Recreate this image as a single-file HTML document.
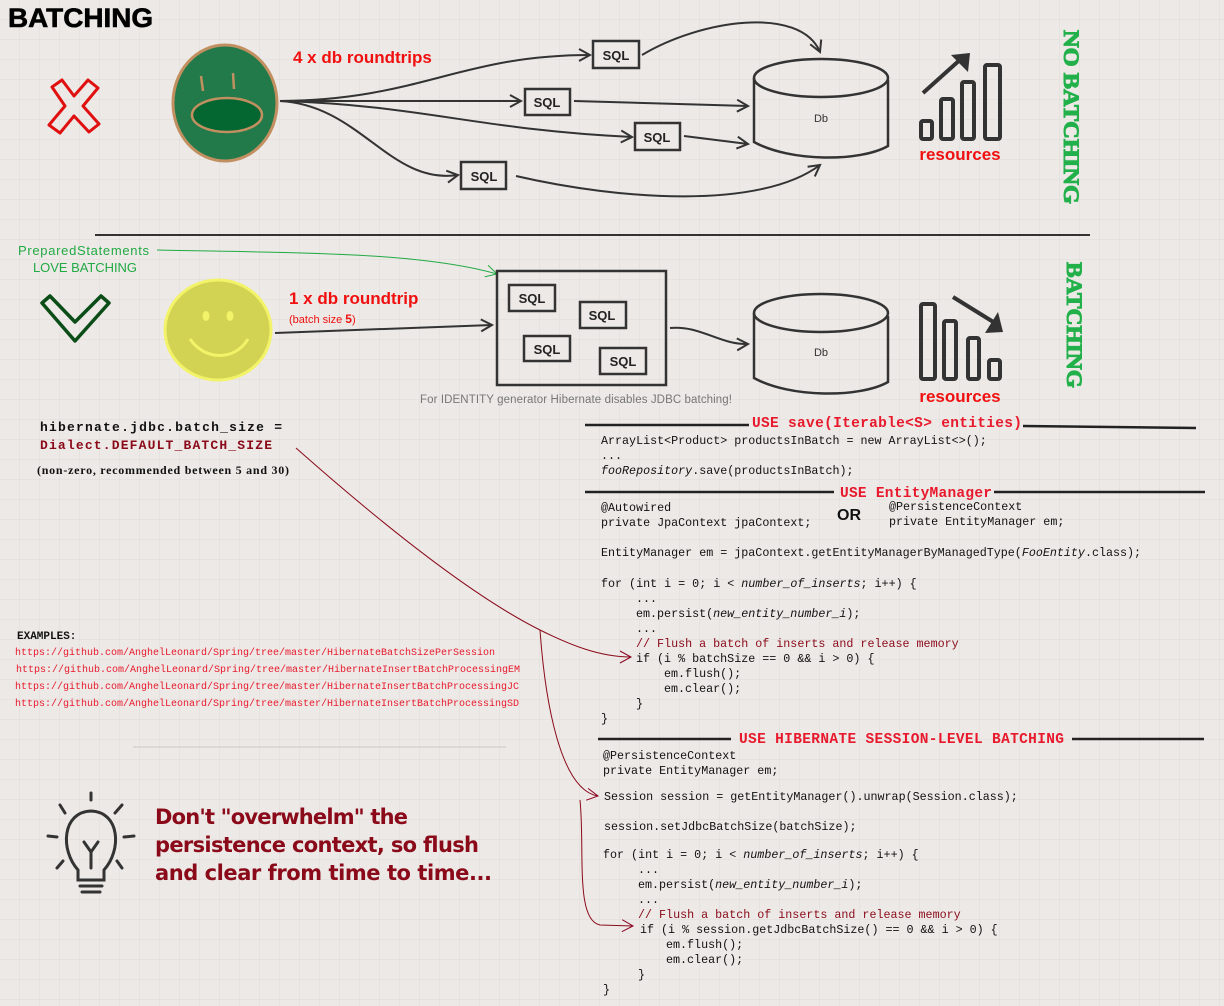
<!DOCTYPE html>
<html><head><meta charset="utf-8"><style>
html,body{margin:0;padding:0;background:#ece9e6;}
svg{display:block}
.m{font-family:"Liberation Mono",monospace;font-size:11.7px;fill:#111;}
.h{font-family:"Liberation Mono",monospace;font-size:14.5px;font-weight:bold;fill:#e8192c;}
.s{font-family:"Liberation Sans",sans-serif;}
</style></head><body>
<svg width="1224" height="1006" viewBox="0 0 1224 1006" xmlns="http://www.w3.org/2000/svg">
<defs>
<pattern id="g" width="20" height="20" patternUnits="userSpaceOnUse"><path d="M20 0V20H0" fill="none" stroke="#e0dcd8" stroke-width="1"/></pattern>
<marker id="a" markerWidth="14" markerHeight="14" refX="12" refY="7" orient="auto" markerUnits="userSpaceOnUse"><path d="M1 1L12 7L1 13" fill="none" stroke="#333" stroke-width="2"/></marker>
<marker id="r" markerWidth="14" markerHeight="14" refX="12" refY="7" orient="auto" markerUnits="userSpaceOnUse"><path d="M1 1L12 7L1 13" fill="none" stroke="#8b0020" stroke-width="1"/></marker>
<marker id="gr" markerWidth="14" markerHeight="14" refX="12" refY="7" orient="auto" markerUnits="userSpaceOnUse"><path d="M1 1L12 7L1 13" fill="none" stroke="#22aa44" stroke-width="1"/></marker>
</defs>
<rect width="1224" height="1006" fill="url(#g)"/>

<text x="8" y="27" class="s" font-size="27" font-weight="bold" fill="#000" stroke="#000" stroke-width="0.6" textLength="145" lengthAdjust="spacingAndGlyphs">BATCHING</text>

<path d="M52 87L62 80L74 96L88 80L98 88L83 106L99 124L89 132L74 116L60 133L49 125L65 106Z" fill="none" stroke="#e01010" stroke-width="3" stroke-linejoin="round"/>
<ellipse cx="225" cy="103" rx="52" ry="58" fill="#227a4a" stroke="#c29060" stroke-width="3"/>
<line x1="201" y1="76" x2="203" y2="91" stroke="#c29060" stroke-width="2.5"/>
<line x1="233" y1="73" x2="234" y2="89" stroke="#c29060" stroke-width="2.5"/>
<ellipse cx="227" cy="115" rx="35" ry="17" fill="#046630" stroke="#c29060" stroke-width="2.5"/>
<text x="293" y="63" class="s" font-size="17" font-weight="bold" fill="#f01010">4 x db roundtrips</text>

<g fill="none" stroke="#333" stroke-width="2">
<path d="M280 101C420 100 460 55 590 55" marker-end="url(#a)"/>
<path d="M280 101L521 101" marker-end="url(#a)"/>
<path d="M280 101C420 105 480 130 632 137" marker-end="url(#a)"/>
<path d="M280 101C360 105 390 185 458 175" marker-end="url(#a)"/>
<path d="M642 55C700 20 800 5 820 52" marker-end="url(#a)"/>
<path d="M574 101L748 106" marker-end="url(#a)"/>
<path d="M684 136L748 144" marker-end="url(#a)"/>
<path d="M516 176C620 200 760 210 820 165" marker-end="url(#a)"/>
</g>
<g stroke="#333" stroke-width="2.5" fill="#ece9e6">
<rect x="593" y="41" width="46" height="27"/>
<rect x="525" y="89" width="45" height="26"/>
<rect x="635" y="123" width="45" height="27"/>
<rect x="461" y="162" width="45" height="27"/>
</g>
<g class="s" font-size="13" font-weight="bold" fill="#222" text-anchor="middle">
<text x="616" y="60">SQL</text><text x="547" y="107">SQL</text><text x="657" y="142">SQL</text><text x="484" y="181">SQL</text>
</g>

<g fill="none" stroke="#333" stroke-width="2.5">
<path d="M754 78V142C790 162 860 162 888 146V80"/>
<ellipse cx="821" cy="78" rx="67" ry="19"/>
</g>
<text x="821" y="122" class="s" font-size="11" fill="#333" text-anchor="middle">Db</text>

<g fill="none" stroke="#333" stroke-width="4" stroke-linejoin="round">
<rect x="921" y="121" width="11" height="18" rx="2"/>
<rect x="941" y="99" width="12" height="40" rx="2"/>
<rect x="962" y="82" width="12" height="57" rx="2"/>
<rect x="985" y="65" width="15" height="74" rx="2"/>
<path d="M923 93L962 58"/>
</g>
<path d="M951 55L970 53L968 72Z" fill="#333"/>
<text x="960" y="160" class="s" font-size="17" font-weight="bold" fill="#f01010" text-anchor="middle">resources</text>

<text transform="translate(1064,30) rotate(90)" font-family="Liberation Serif,serif" font-size="22" font-weight="bold" fill="#22b04a" stroke="#22b04a" stroke-width="1" textLength="174" lengthAdjust="spacingAndGlyphs">NO BATCHING</text>

<line x1="95" y1="235" x2="1090" y2="235" stroke="#333" stroke-width="2"/>

<text x="18" y="255" class="s" font-size="13" fill="#22aa44" textLength="131">PreparedStatements</text>
<text x="33" y="272" class="s" font-size="13" fill="#22aa44" textLength="104">LOVE BATCHING</text>
<path d="M157 250C300 253 420 252 497 274" fill="none" stroke="#22aa44" stroke-width="1" marker-end="url(#gr)"/>
<path d="M42 303L50 296L75 322L101 296L109 303L75 341Z" fill="none" stroke="#0b4d16" stroke-width="3.5" stroke-linejoin="round"/>
<ellipse cx="218" cy="330" rx="53" ry="50" fill="#d3d353" stroke="#f3f36a" stroke-width="3"/>
<ellipse cx="206" cy="316" rx="3.5" ry="5" fill="#f3f36a"/>
<ellipse cx="230" cy="316" rx="3.5" ry="5" fill="#f3f36a"/>
<path d="M190 339C205 361 235 361 248 339" fill="none" stroke="#f3f36a" stroke-width="3"/>
<text x="289" y="304" class="s" font-size="17" font-weight="bold" fill="#f01010">1 x db roundtrip</text>
<text x="289" y="323" class="s" font-size="11" fill="#f01010">(batch size <tspan font-weight="bold" font-size="12">5</tspan>)</text>
<g fill="none" stroke="#333" stroke-width="2">
<path d="M275 333L492 325" marker-end="url(#a)"/>
<path d="M670 328C700 325 720 345 748 344" marker-end="url(#a)"/>
</g>
<rect x="497" y="271" width="169" height="114" fill="none" stroke="#333" stroke-width="2.5"/>
<g stroke="#333" stroke-width="2.5" fill="#ece9e6">
<rect x="509" y="285" width="46" height="26"/>
<rect x="580" y="302" width="46" height="26"/>
<rect x="524" y="336" width="46" height="25"/>
<rect x="600" y="348" width="46" height="26"/>
</g>
<g class="s" font-size="13" font-weight="bold" fill="#222" text-anchor="middle">
<text x="532" y="303">SQL</text><text x="602" y="320">SQL</text><text x="547" y="354">SQL</text><text x="623" y="366">SQL</text>
</g>
<text x="420" y="403" class="s" font-size="11.5" fill="#777" textLength="312">For IDENTITY generator Hibernate disables JDBC batching!</text>

<g fill="none" stroke="#333" stroke-width="2.5">
<path d="M754 313V378C790 398 860 398 888 382V316"/>
<ellipse cx="821" cy="313" rx="67" ry="19"/>
</g>
<text x="821" y="356" class="s" font-size="11" fill="#333" text-anchor="middle">Db</text>
<g fill="none" stroke="#333" stroke-width="4" stroke-linejoin="round">
<rect x="921" y="304" width="14" height="75" rx="2"/>
<rect x="944" y="321" width="12" height="58" rx="2"/>
<rect x="968" y="338" width="11" height="41" rx="2"/>
<rect x="989" y="360" width="11" height="19" rx="2"/>
<path d="M953 297L995 323"/>
</g>
<path d="M985 333L1003 332L998 312Z" fill="#333"/>
<text x="960" y="402" class="s" font-size="17" font-weight="bold" fill="#f01010" text-anchor="middle">resources</text>
<text transform="translate(1067,262) rotate(90)" font-family="Liberation Serif,serif" font-size="22" font-weight="bold" fill="#22b04a" stroke="#22b04a" stroke-width="1" textLength="126" lengthAdjust="spacingAndGlyphs">BATCHING</text>

<text x="40" y="431" font-family="Liberation Mono,monospace" font-size="13" font-weight="bold" fill="#111" textLength="242">hibernate.jdbc.batch_size =</text>
<text x="40" y="449" font-family="Liberation Mono,monospace" font-size="13" font-weight="bold" fill="#8b0a1a" textLength="232">Dialect.DEFAULT_BATCH_SIZE</text>
<text x="37" y="474" font-family="Liberation Serif,serif" font-size="12" font-weight="bold" fill="#111" textLength="252">(non-zero, recommended between 5 and 30)</text>

<g fill="none" stroke="#8b0a1a" stroke-width="1">
<path d="M296 448C400 540 480 600 540 630C570 645 600 657 631 657" marker-end="url(#r)"/>
<path d="M540 630C545 700 560 790 598 796" marker-end="url(#r)"/>
<path d="M580 800C585 850 575 920 600 925L633 926" marker-end="url(#r)"/>
</g>

<text x="17" y="639" font-family="Liberation Mono,monospace" font-size="11" font-weight="bold" fill="#111">EXAMPLES:</text>
<g font-family="Liberation Mono,monospace" font-size="10" fill="#e8192c">
<text x="15" y="655" textLength="480">https://github.com/AnghelLeonard/Spring/tree/master/HibernateBatchSizePerSession</text>
<text x="16" y="672" textLength="504">https://github.com/AnghelLeonard/Spring/tree/master/HibernateInsertBatchProcessingEM</text>
<text x="15" y="689" textLength="504">https://github.com/AnghelLeonard/Spring/tree/master/HibernateInsertBatchProcessingJC</text>
<text x="15" y="706" textLength="504">https://github.com/AnghelLeonard/Spring/tree/master/HibernateInsertBatchProcessingSD</text>
</g>
<line x1="133" y1="747" x2="506" y2="747" stroke="#dcd8d4" stroke-width="2"/>

<g fill="none" stroke="#333" stroke-width="3" stroke-linecap="round">
<path d="M78 870C60 850 62 812 91 811C120 812 122 850 104 870L104 880H78Z"/>
<path d="M84 842L91 852L98 842M91 852V868"/>
<path d="M80 880H102M80 886H102M82 892H100"/>
<line x1="91" y1="793" x2="91" y2="800"/>
<line x1="60" y1="805" x2="65" y2="813"/>
<line x1="122" y1="805" x2="115" y2="813"/>
<line x1="48" y1="836" x2="57" y2="837"/>
<line x1="124" y1="837" x2="134" y2="836"/>
<line x1="57" y1="868" x2="63" y2="861"/>
<line x1="122" y1="868" x2="117" y2="861"/>
</g>
<g font-family="DejaVu Sans,sans-serif" font-size="21" font-weight="bold" fill="#8b0a1a">
<text x="155" y="824" textLength="253">Don't "overwhelm" the</text>
<text x="155" y="852" textLength="324">persistence context, so flush</text>
<text x="155" y="880" textLength="337">and clear from time to time...</text>
</g>

<g stroke="#222" stroke-width="2.5">
<line x1="585" y1="425" x2="749" y2="425"/><line x1="1023" y1="426" x2="1196" y2="428"/>
<line x1="585" y1="492" x2="834" y2="492"/><line x1="994" y1="492" x2="1205" y2="492"/>
<line x1="598" y1="739" x2="731" y2="739"/><line x1="1072" y1="739" x2="1204" y2="739"/>
</g>
<text x="752" y="427" class="h" textLength="270">USE save(Iterable&lt;S&gt; entities)</text>
<text x="840" y="497" class="h" textLength="152">USE EntityManager</text>
<text x="739" y="743" class="h" textLength="325">USE HIBERNATE SESSION-LEVEL BATCHING</text>

<text x="601" y="444" class="m">ArrayList&lt;Product&gt; productsInBatch = new ArrayList&lt;&gt;();</text>
<text x="601" y="459" class="m">...</text>
<text x="601" y="474" class="m"><tspan font-style="italic">fooRepository</tspan>.save(productsInBatch);</text>

<text x="601" y="511" class="m">@Autowired</text>
<text x="601" y="526" class="m">private JpaContext jpaContext;</text>
<text x="837" y="520" class="s" font-size="16" font-weight="bold" fill="#111">OR</text>
<text x="889" y="510" class="m">@PersistenceContext</text>
<text x="889" y="525" class="m">private EntityManager em;</text>
<text x="601" y="556" class="m">EntityManager em = jpaContext.getEntityManagerByManagedType(<tspan font-style="italic">FooEntity</tspan>.class);</text>
<text x="601" y="587" class="m">for (int i = 0; i &lt; <tspan font-style="italic">number_of_inserts</tspan>; i++) {</text>
<text x="636" y="602" class="m">...</text>
<text x="636" y="617" class="m">em.persist(<tspan font-style="italic">new_entity_number_i</tspan>);</text>
<text x="636" y="632" class="m">...</text>
<text x="636" y="647" class="m" style="fill:#8b0a1a">// Flush a batch of inserts and release memory</text>
<text x="636" y="662" class="m">if (i % batchSize == 0 &amp;&amp; i &gt; 0) {</text>
<text x="664" y="677" class="m">em.flush();</text>
<text x="664" y="692" class="m">em.clear();</text>
<text x="636" y="707" class="m">}</text>
<text x="601" y="722" class="m">}</text>

<text x="603" y="759" class="m">@PersistenceContext</text>
<text x="603" y="774" class="m">private EntityManager em;</text>
<text x="604" y="800" class="m">Session session = getEntityManager().unwrap(Session.class);</text>
<text x="604" y="830" class="m">session.setJdbcBatchSize(batchSize);</text>
<text x="603" y="858" class="m">for (int i = 0; i &lt; <tspan font-style="italic">number_of_inserts</tspan>; i++) {</text>
<text x="638" y="873" class="m">...</text>
<text x="638" y="888" class="m">em.persist(<tspan font-style="italic">new_entity_number_i</tspan>);</text>
<text x="638" y="903" class="m">...</text>
<text x="638" y="918" class="m" style="fill:#8b0a1a">// Flush a batch of inserts and release memory</text>
<text x="640" y="933" class="m">if (i % session.getJdbcBatchSize() == 0 &amp;&amp; i &gt; 0) {</text>
<text x="666" y="948" class="m">em.flush();</text>
<text x="666" y="963" class="m">em.clear();</text>
<text x="638" y="978" class="m">}</text>
<text x="603" y="993" class="m">}</text>
</svg>
</body></html>
